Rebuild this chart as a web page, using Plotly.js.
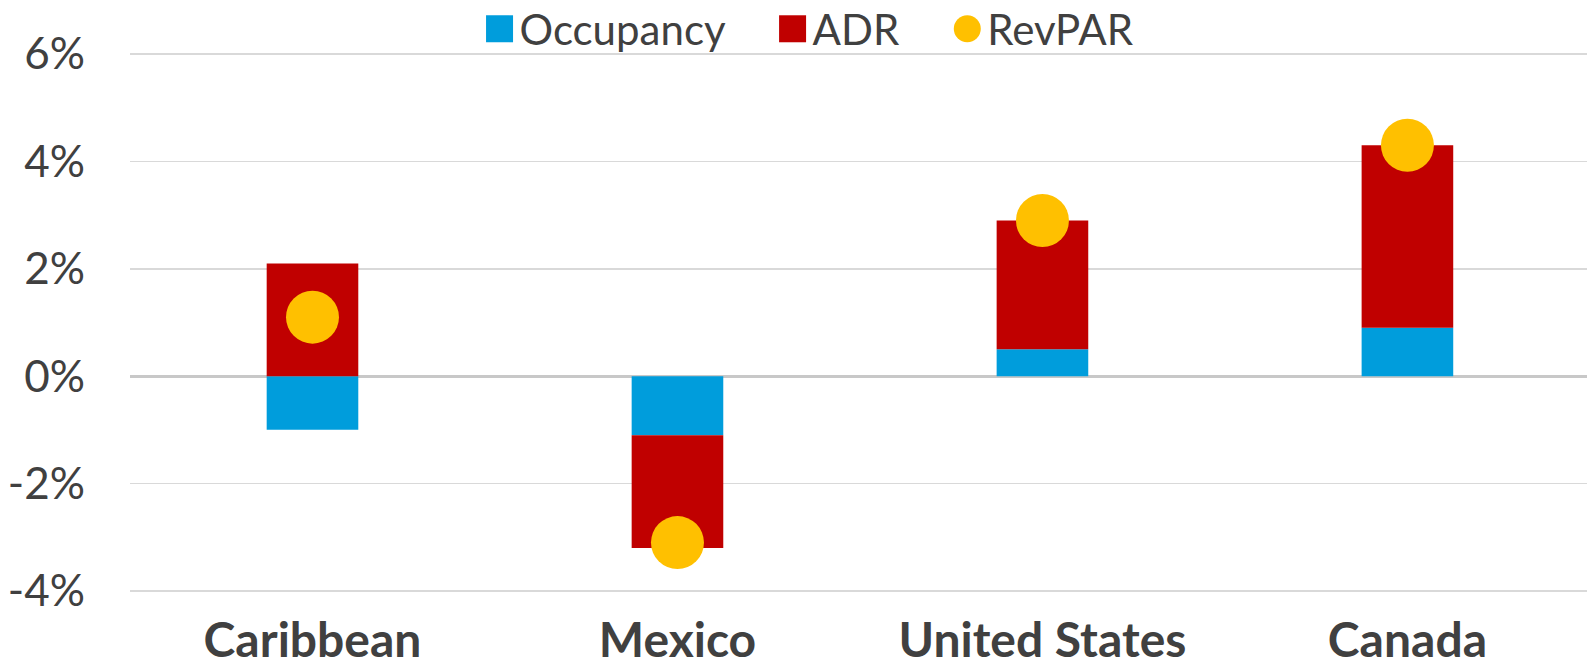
<!DOCTYPE html>
<html>
<head>
<meta charset="utf-8">
<script src="https://cdn.plot.ly/plotly-3.0.1.min.js"></script>
<style>html,body{margin:0;padding:0;background:#fff;}#chart{width:1587px;height:666px;}</style>
</head>
<body>
<div id="chart"></div>
<script>
const categories = ["Caribbean", "Mexico", "United States", "Canada"];
const occupancy = [-1.0, -1.1, 0.5, 0.9];
const adr = [2.1, -2.1, 2.4, 3.4];
const revpar = [1.1, -3.1, 2.9, 4.3];
const seriesNames = ["Occupancy", "ADR", "RevPAR"];
const yTickVals = [-4, -2, 0, 2, 4, 6];
const yTickText = ["-4%", "-2%", "0%", "2%", "4%", "6%"];

const FONT = "Lato, 'Open Sans', sans-serif";
const TXT = "#404040";
const PAD = "\u00a0\u00a0\u00a0\u00a0";

const traces = [
  {type: "bar", name: seriesNames[0] + PAD, x: categories, y: occupancy, marker: {color: "#009DDC"}, hoverinfo: "skip"},
  {type: "bar", name: seriesNames[1] + PAD, x: categories, y: adr, marker: {color: "#C00000"}, hoverinfo: "skip"},
  {type: "scatter", mode: "markers", name: seriesNames[2], x: categories, y: revpar, marker: {color: "#FFC000", size: 53}, hoverinfo: "skip"}
];

const layout = {
  width: 1587, height: 666,
  margin: {l: 130, r: 0, t: 53, b: 74, autoexpand: false},
  paper_bgcolor: "#fff", plot_bgcolor: "#fff",
  barmode: "relative",
  bargap: 0.749,
  font: {family: FONT, color: TXT},
  showlegend: true,
  legend: {orientation: "h", x: 0.4664, xanchor: "center", yref: "container", y: 0.9565, yanchor: "middle",
           font: {size: 42, color: TXT, family: FONT}, itemwidth: 30, traceorder: "normal", bgcolor: "rgba(0,0,0,0)"},
  xaxis: {type: "category", range: [-0.5, 3.492], showgrid: false, zeroline: false, showline: false,
          ticks: "", tickfont: {size: 48, color: TXT, family: "Lato, sans-serif", weight: "bold"}, ticklabelstandoff: 16},
  yaxis: {range: [-4.02, 6.02], tickvals: yTickVals, ticktext: yTickText, showgrid: true, gridcolor: "#D9D9D9", gridwidth: 1.5,
          zeroline: true, zerolinecolor: "#C8C8C8", zerolinewidth: 3, showline: false, ticks: "",
          tickfont: {size: 44, color: TXT, family: FONT}, ticklabelstandoff: 44}
};

function fixLegend() {
  const paths = document.querySelectorAll('#chart .legend .legendpoints path');
  paths.forEach(p => {
    if (p.dataset.scaled) return;
    const bb = p.getBBox();
    if (!bb || !bb.width) return;
    const s = 27 / bb.width;
    const t = p.getAttribute('transform') || '';
    p.setAttribute('transform', t + ' scale(' + s + ')');
    p.dataset.scaled = '1';
  });
}

Plotly.newPlot('chart', traces, layout, {displayModeBar: false, staticPlot: true}).then(gd => {
  fixLegend();
  gd.on && gd.on('plotly_afterplot', fixLegend);
});
</script>
</body>
</html>
